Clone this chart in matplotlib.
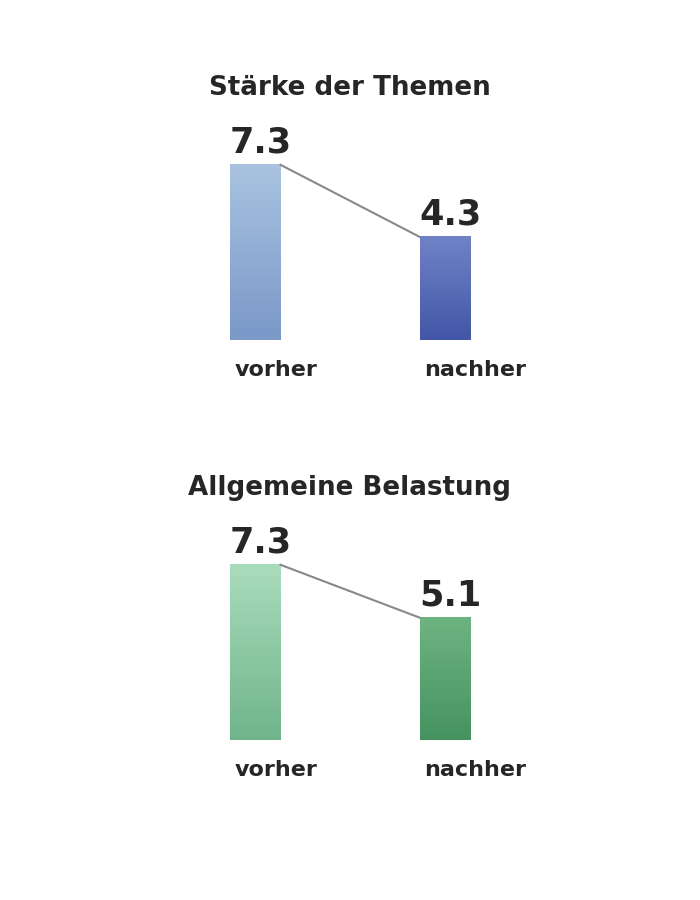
import numpy as np
import matplotlib.pyplot as plt
from matplotlib.colors import LinearSegmentedColormap

categories = ['vorher', 'nachher']
titles = ['Stärke der Themen', 'Allgemeine Belastung']
values_themen = [7.3, 4.3]
values_belastung = [7.3, 5.1]

# gradient colours per bar (top, bottom)
blue_grad = [('#aac3e1', '#7a98c8'), ('#7083c7', '#4356a7')]
green_grad = [('#a9dcbd', '#70b48c'), ('#6eb482', '#459360')]

W, H = 700, 900
fig = plt.figure(figsize=(7, 9), dpi=100)
fig.patch.set_facecolor('white')

txt_col = '#262626'
bw = 51 / 190


def panel(base_y, title, vals, grads):
    ax = fig.add_axes([160 / W, (H - base_y) / H, 380 / W, 240 / H])
    ax.set_xlim(-0.5, 1.5)
    ax.set_ylim(0, 10)
    ax.axis('off')
    grad = np.linspace(0, 1, 256).reshape(-1, 1)
    for i, (v, (ctop, cbot)) in enumerate(zip(vals, grads)):
        cmap = LinearSegmentedColormap.from_list('g', [cbot, ctop])
        ax.imshow(grad, cmap=cmap, origin='lower', aspect='auto',
                  extent=[i - bw / 2, i + bw / 2, 0, v], zorder=2)
        ax.annotate(f'{v:.1f}', (i - bw / 2, v), xytext=(0, 8.6),
                    textcoords='offset points', ha='left', va='baseline',
                    fontsize=25.3, fontweight='bold', color=txt_col)
        ax.annotate(categories[i], (i - bw / 2, 0), xytext=(3.6, -26),
                    textcoords='offset points', ha='left', va='baseline',
                    fontsize=16, fontweight='bold', color=txt_col,
                    annotation_clip=False)
    ax.plot([bw / 2, 1 - bw / 2], [vals[0], vals[1]], color='#888888',
            lw=1.5, zorder=3)
    ax.set_xlim(-0.5, 1.5)
    ax.set_ylim(0, 10)
    fig.text(0.5, (H - (base_y - 245)) / H, title, ha='center', va='baseline',
             fontsize=18.8, fontweight='bold', color=txt_col)


panel(340, titles[0], values_themen, blue_grad)
panel(740, titles[1], values_belastung, green_grad)

fig.savefig('out.png', dpi=100, facecolor='white')
